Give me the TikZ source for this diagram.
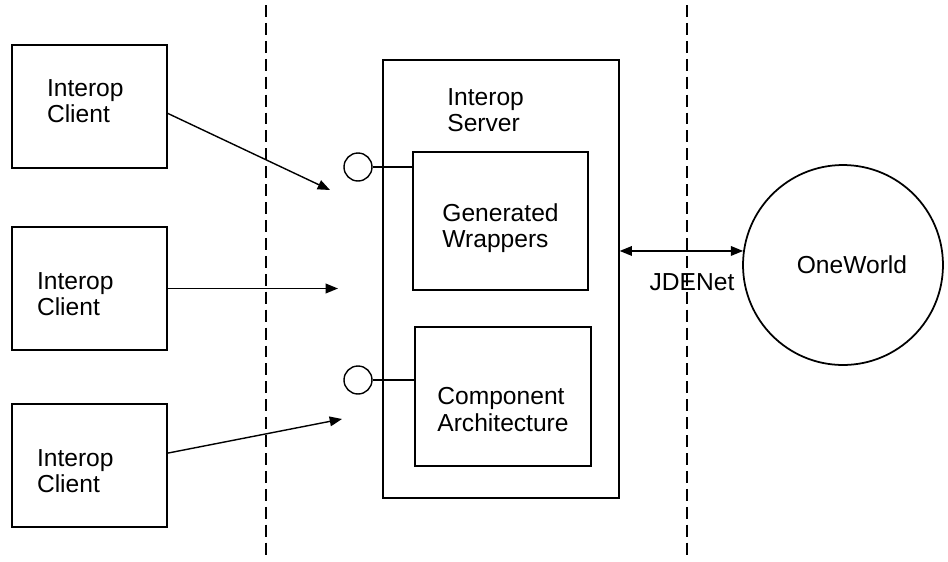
\documentclass[tikz,border=0pt]{standalone}
\usepackage{fontspec}
\setmainfont{Liberation Sans}
\usetikzlibrary{arrows.meta}

\begin{document}
\begin{tikzpicture}[x=0.02cm, y=-0.02cm,
    every node/.style={font=\fontsize{14}{15}\selectfont},
    box/.style={draw, line width=0.8pt, align=left, inner ysep=0pt},
    client/.style={box, minimum width=3.1cm, minimum height=2.46cm},
    iface/.style={draw, circle, line width=0.8pt, minimum size=0.56cm, inner sep=0pt},
    arr/.style={-{Triangle[length=7pt,width=5.5pt]}, line width=0.8pt},
    zone/.style={line width=1.7pt, dash pattern=on 6.8pt off 3.4pt}]

  \useasboundingbox (0,0) rectangle (948,562);

  % network boundaries
  \draw[zone] (266,5) -- (266,560);
  \draw[zone] (687,5) -- (687,560);

  % clients
  \node[client, inner xsep=0.7cm, text width=1.7cm] (c1) at (89.5,106.5) {Interop\\Client\rule[-6.2pt]{0pt}{0pt}};
  \node[client, inner xsep=0.5cm, text width=2.1cm] (c2) at (89.5,288.5) {\rule{0pt}{16.4pt}Interop\\Client};
  \node[client, inner xsep=0.5cm, text width=2.1cm] (c3) at (89.5,465.5) {\rule{0pt}{15.8pt}Interop\\Client};

  % server
  \node[box, minimum width=4.72cm, minimum height=8.76cm] (srv) at (501,279) {};
  \node[anchor=north west, align=left, inner sep=0pt] (srvlbl) at (447,88) {Interop\\Server};

  \node[box, minimum width=3.5cm, minimum height=2.76cm] (gw) at (500.5,221) {\rule{0pt}{18.1pt}Generated\\Wrappers};
  \node[box, minimum width=3.52cm, minimum height=2.78cm] (ca) at (503,396.5) {\rule{0pt}{24.6pt}Component\\Architecture};

  \node[iface] (i1) at (358,167) {};
  \node[iface] (i2) at (358,380) {};
  \draw[line width=0.8pt] (i1) -- (i1 -| gw.west);
  \draw[line width=0.8pt] (i2) -- (i2 -| ca.west);

  % OneWorld
  \node[draw, circle, line width=1pt, minimum size=4cm, inner sep=0pt] (ow) at (843,265) {\hspace*{0.36cm}OneWorld};
  \node[inner sep=0pt] (jde) at (692,282) {JDENet};

  \coordinate (t1) at (330,190);
  \coordinate (t2) at (338,288.5);
  \coordinate (t3) at (342,419);
  \draw[arr] (c1.-5) -- (t1);
  \draw[arr] (c2.east) -- (t2);
  \draw[arr] (c3.9) -- (t3);
  \draw[{Triangle[length=7pt,width=5.5pt]}-{Triangle[length=7pt,width=5.5pt]}, line width=0.8pt] (ow.172 -| srv.east) -- (ow.172);

\end{tikzpicture}
\end{document}
